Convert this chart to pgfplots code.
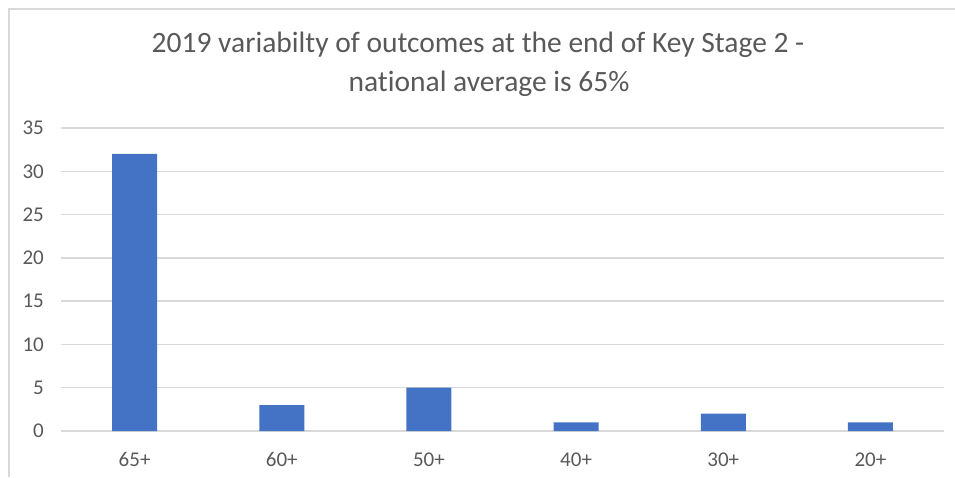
\documentclass[border=0pt]{standalone}
\usepackage{pgfplots}
\pgfplotsset{compat=1.18}
\usepackage{fontspec}
\setmainfont{Carlito}[Ligatures={NoCommon}]
\definecolor{barblue}{HTML}{4472C4}
\definecolor{gridgray}{HTML}{D9D9D9}
\definecolor{textgray}{HTML}{595959}
\begin{document}
\begin{tikzpicture}
\path[use as bounding box] (0,0) rectangle (955pt,477pt);
% chart frame (top and left edges visible)
\draw[gridgray, line width=1.5pt] (9pt,0) -- (9pt,468pt) -- (955pt,468pt);
% title
\node[anchor=base, text=textgray, font=\fontsize{29.5}{34}\selectfont] at (478pt,424pt) {2019 variabilty of outcomes at the end of Key Stage 2 -};
\node[anchor=base, text=textgray, font=\fontsize{29.5}{34}\selectfont] at (489pt,385pt) {national average is 65\%};
\begin{axis}[
  at={(61pt,46pt)}, anchor=south west,
  scale only axis,
  width=883pt, height=303pt,
  xmin=-0.5, xmax=5.5,
  ymin=0, ymax=35,
  ytick={0,5,...,35},
  xtick=data,
  xticklabels={65+,60+,50+,40+,30+,20+},
  ymajorgrids=true,
  grid style={draw=gridgray, line width=1.3pt},
  axis line style={draw=none},
  major tick style={draw=none},
  /pgf/number format/assume math mode=true,
  tick label style={text=textgray, font=\fontsize{21}{24}\selectfont},
  yticklabel style={inner sep=0pt, xshift=-17pt},
  xticklabel style={inner sep=0pt, yshift=-17pt},
  ybar, bar width=45pt,
]
\addplot[fill=barblue, draw=none] coordinates {
  (0,32) (1,3) (2,5) (3,1) (4,2) (5,1)
};
\end{axis}
\end{tikzpicture}
\end{document}
